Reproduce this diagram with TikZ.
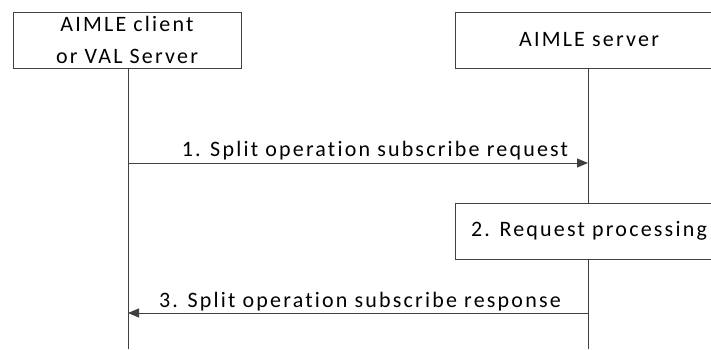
\documentclass[tikz,border=0pt]{standalone}
\usepackage{fontspec}
\setmainfont{Carlito}[LetterSpace=10,Ligatures={NoCommon}]
\usetikzlibrary{arrows.meta}
\begin{document}
\begin{tikzpicture}[x=1pt,y=-1pt,
  box/.style={draw=black!75,line width=1pt,fill=white,inner sep=0pt,font=\fontsize{22}{32}\selectfont,align=center},
  life/.style={draw=black!75,line width=1pt},
  msg/.style={draw=black!75,line width=1pt,-{Triangle[length=11pt,width=9pt]}},
  lbl/.style={font=\fontsize{22}{26}\selectfont,anchor=base,inner sep=0pt}]
\useasboundingbox (0,0) rectangle (711,349);
\coordinate (lbot) at (128,349);
\coordinate (rbot) at (588,349);
\draw[life] (128,68) -- (lbot);
\draw[life] (588,68) -- (rbot);
\node[box,minimum width=228pt,minimum height=56pt] (client) at (127,40) {AIMLE client\\or VAL Server};
\node[box,minimum width=268pt,minimum height=56pt] (server) at (589,40) {AIMLE server};
\coordinate (a1s) at (128,163);
\coordinate (a1e) at (588,163);
\draw[msg] (a1s) -- (a1e);
\node[lbl] (l1) at (375,156) {1. Split operation subscribe request};
\node[box,minimum width=268pt,minimum height=56pt] (proc) at (589,231) {2. Request processing};
\coordinate (a3s) at (588,313);
\coordinate (a3e) at (128,313);
\draw[msg] (a3s) -- (a3e);
\node[lbl] (l3) at (360,307) {3. Split operation subscribe response};
\end{tikzpicture}
\end{document}
